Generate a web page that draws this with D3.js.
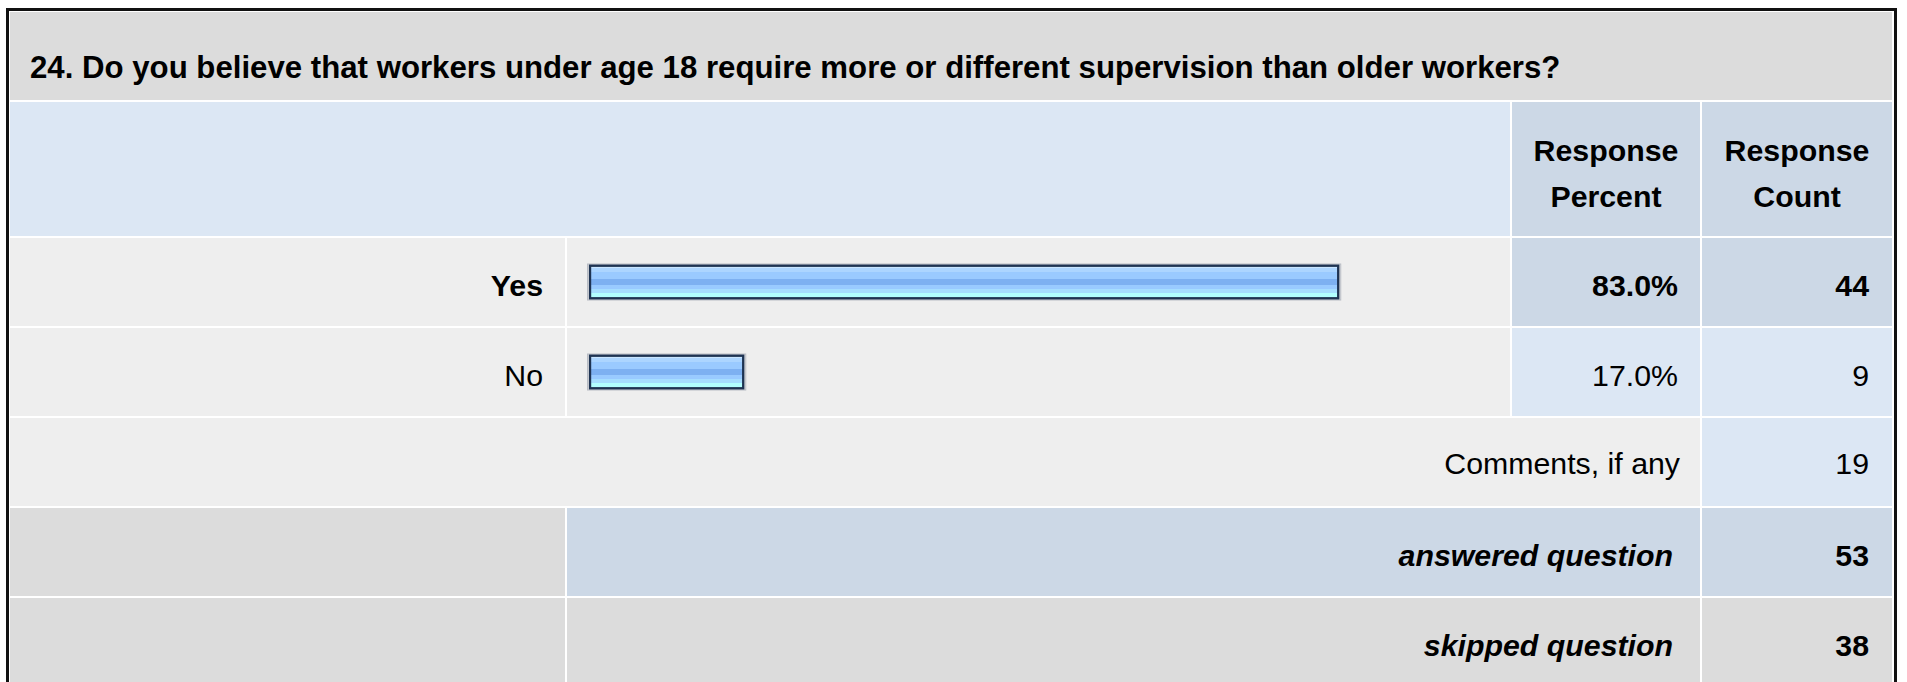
<!DOCTYPE html>
<html>
<head>
<meta charset="utf-8">
<script src="https://cdn.jsdelivr.net/npm/d3@7"></script>
<style>
  html, body { margin: 0; padding: 0; background: #fff; }
  svg { display: block; }
  text { font-family: "Liberation Sans", Arial, sans-serif; fill: #000; }
</style>
</head>
<body>
<script>
// ---- data ----
const questionTitle = "24. Do you believe that workers under age 18 require more or different supervision than older workers?";
const answers = ["Yes", "No"];
const percents = [83.0, 17.0];
const counts = [44, 9];
const colHeaders = [["Response", "Percent"], ["Response", "Count"]];
const commentsLabel = "Comments, if any";
const commentsCount = 19;
const summaryLabels = ["answered question", "skipped question"];
const summaryCounts = [53, 38];

// ---- layout ----
const W = 1907, H = 682;
const svg = d3.select("body").append("svg").attr("width", W).attr("height", H);

const colX = [10, 567, 1512, 1702, 1892]; // column boundaries
const gap = 2;
const FS = 30.3;
const C = {
  gray: "#dcdcdc", light: "#eeeeee", blueLight: "#dce7f4", blueDark: "#ccd8e6", border: "#111"
};

const maxIdx = percents.indexOf(d3.max(percents));

// gradient for bars
const defs = svg.append("defs");
const grad = defs.append("linearGradient").attr("id", "barGrad")
  .attr("x1", 0).attr("y1", 0).attr("x2", 0).attr("y2", 1);
const stops = [
  [0, "#c9e5ff"], [0.08, "#c9e5ff"], [0.08, "#acd5ff"], [0.19, "#acd5ff"],
  [0.19, "#9acaff"], [0.40, "#9acaff"], [0.40, "#7db0f1"], [0.60, "#7db0f1"],
  [0.60, "#99caff"], [0.72, "#99caff"], [0.72, "#a6deff"], [0.84, "#a6deff"],
  [0.84, "#b2ffff"], [1, "#b2ffff"]
];
stops.forEach(s => grad.append("stop").attr("offset", s[0]).attr("stop-color", s[1]));

function cell(x0, x1, y0, y1, fill) {
  svg.append("rect").attr("x", x0).attr("y", y0)
    .attr("width", x1 - x0).attr("height", y1 - y0).attr("fill", fill);
}
function txt(x, y, s, opts = {}) {
  return svg.append("text").attr("x", x).attr("y", y)
    .attr("text-anchor", opts.anchor || "end")
    .attr("font-size", opts.size || FS)
    .attr("font-weight", opts.bold ? "bold" : "normal")
    .attr("font-style", opts.italic ? "italic" : "normal")
    .text(s);
}

// title row
cell(colX[0], colX[4], 12, 100, C.gray);
txt(30, 78, questionTitle, { anchor: "start", bold: true, size: 31.2 });

// column header row
cell(colX[0], colX[2] - gap, 102, 236, C.blueLight);
cell(colX[2], colX[3] - gap, 102, 236, C.blueDark);
cell(colX[3], colX[4], 102, 236, C.blueDark);
colHeaders.forEach((lines, i) => {
  const cx = (colX[2 + i] + (i === 0 ? colX[3] - gap : colX[4])) / 2;
  lines.forEach((l, j) => txt(cx, 161 + j * 45.5, l, { anchor: "middle", bold: true }));
});

// answer rows
const yBand = d3.scaleBand().domain(answers).range([238, 418]);
const xScale = d3.scaleLinear().domain([0, 100]).range([0, 901.5]);
const rowH = yBand.step() - gap;
const barH = 35;

answers.forEach((a, i) => {
  const y0 = yBand(a), y1 = y0 + rowH;
  const isMax = i === maxIdx;
  cell(colX[0], colX[1] - gap, y0, y1, C.light);
  cell(colX[1], colX[2] - gap, y0, y1, C.light);
  cell(colX[2], colX[3] - gap, y0, y1, isMax ? C.blueDark : C.blueLight);
  cell(colX[3], colX[4], y0, y1, isMax ? C.blueDark : C.blueLight);
  const base = y0 + rowH / 2 + 14;
  txt(colX[1] - gap - 22, base, a, { bold: isMax });
  txt(colX[3] - gap - 22, base, percents[i].toFixed(1) + "%", { bold: isMax });
  txt(colX[4] - 23, base, counts[i], { bold: isMax });
});

// bars
const barX0 = 590;
svg.selectAll("rect.shadow").data(answers).join("rect").attr("class", "shadow")
  .attr("x", barX0 - 2.5).attr("y", d => yBand(d) + (rowH - barH) / 2 - 0.5)
  .attr("width", (d, i) => xScale(percents[i]) + 5).attr("height", barH + 1)
  .attr("fill", "none").attr("stroke", "#b8bcc4").attr("stroke-width", 1);
svg.selectAll("rect.bar").data(answers).join("rect").attr("class", "bar")
  .attr("x", barX0).attr("y", d => yBand(d) + (rowH - barH) / 2 + 1.2)
  .attr("width", (d, i) => xScale(percents[i])).attr("height", barH - 2.4)
  .attr("fill", "url(#barGrad)").attr("stroke", "#1e3352").attr("stroke-width", 2.4);

// comments row
cell(colX[0], colX[3] - gap, 418, 506, C.light);
cell(colX[3], colX[4], 418, 506, C.blueLight);
txt(colX[3] - gap - 20, 473.5, commentsLabel);
txt(colX[4] - 23, 473.5, commentsCount);

// summary rows
summaryLabels.forEach((lab, i) => {
  const y0 = 508 + i * 90, y1 = y0 + 88;
  const fill = i === 0 ? C.blueDark : C.gray;
  cell(colX[0], colX[1] - gap, y0, y1, C.gray);
  cell(colX[1], colX[3] - gap, y0, y1, fill);
  cell(colX[3], colX[4], y0, y1, fill);
  txt(colX[3] - gap - 27, y0 + 44 + 13.5, lab, { bold: true, italic: true });
  txt(colX[4] - 23, y0 + 44 + 13.5, summaryCounts[i], { bold: true });
});

// outer border
svg.append("rect").attr("x", 7.5).attr("y", 9.5).attr("width", 1888).attr("height", 720)
  .attr("fill", "none").attr("stroke", C.border).attr("stroke-width", 3);
</script>
</body>
</html>
